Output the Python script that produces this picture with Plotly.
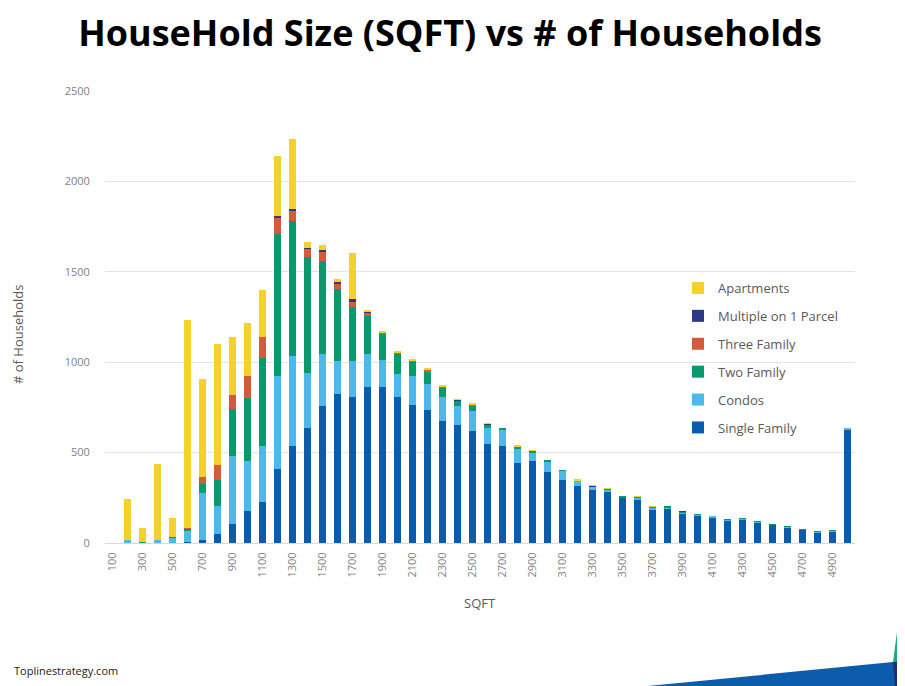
import plotly.graph_objects as go

sqft = [100, 200, 300, 400, 500, 600, 700, 800, 900, 1000,
        1100, 1200, 1300, 1400, 1500, 1600, 1700, 1800, 1900, 2000,
        2100, 2200, 2300, 2400, 2500, 2600, 2700, 2800, 2900, 3000,
        3100, 3200, 3300, 3400, 3500, 3600, 3700, 3800, 3900, 4000,
        4100, 4200, 4300, 4400, 4500, 4600, 4700, 4800, 4900, 5000]

single_family = [0, 0, 0, 0, 0, 5, 15, 48, 103, 177,
                 227, 412, 538, 637, 758, 822, 808, 865, 865, 810,
                 764, 734, 673, 655, 618, 550, 537, 445, 454, 391,
                 349, 317, 292, 280, 251, 242, 188, 192, 162, 153,
                 140, 127, 129, 114, 101, 87, 72, 59, 65, 627]
condos = [0, 18, 0, 15, 30, 60, 259, 157, 379, 277,
          309, 512, 497, 301, 288, 187, 199, 179, 146, 127,
          159, 148, 135, 103, 113, 87, 93, 74, 46, 59,
          50, 26, 18, 15, 2, 10, 10, 5, 8, 4,
          8, 3, 6, 4, 3, 4, 4, 3, 2, 8]
two_family = [0, 0, 5, 0, 3, 15, 55, 142, 259, 346,
              490, 785, 745, 643, 512, 397, 299, 212, 145, 111,
              81, 66, 50, 28, 31, 17, 5, 13, 9, 4,
              3, 3, 2, 7, 4, 5, 4, 6, 4, 2,
              0, 1, 2, 2, 1, 1, 1, 1, 1, 0]
three_family = [0, 0, 0, 0, 0, 5, 37, 87, 76, 124,
                116, 92, 61, 46, 54, 31, 30, 20, 6, 5,
                3, 9, 7, 3, 2, 2, 0, 3, 2, 0,
                0, 1, 2, 0, 0, 0, 0, 0, 0, 0,
                0, 0, 0, 0, 0, 0, 0, 0, 0, 0]
multiple_parcel = [0, 0, 0, 0, 0, 0, 0, 0, 0, 0,
                   0, 9, 9, 7, 7, 5, 11, 3, 2, 2,
                   2, 3, 2, 2, 1, 4, 0, 1, 1, 0,
                   0, 1, 4, 0, 0, 0, 0, 0, 1, 0,
                   0, 0, 0, 0, 0, 0, 0, 0, 0, 0]
apartments = [0, 228, 80, 421, 107, 1146, 540, 667, 325, 292,
              255, 333, 382, 33, 28, 18, 256, 5, 4, 7,
              5, 3, 2, 2, 4, 2, 0, 1, 1, 0,
              0, 1, 1, 1, 0, 1, 1, 0, 0, 0,
              0, 0, 0, 0, 0, 0, 0, 0, 0, 0]

series = [
    ("Single Family", single_family, "#0B5CAD", 6),
    ("Condos", condos, "#4DB8EA", 5),
    ("Two Family", two_family, "#079A6C", 4),
    ("Three Family", three_family, "#D35A3B", 3),
    ("Multiple on 1 Parcel", multiple_parcel, "#2E3986", 2),
    ("Apartments", apartments, "#F4D12B", 1),
]

x_ticks = sqft[::2]
y_ticks = [0, 500, 1000, 1500, 2000, 2500]

FONT = "Open Sans, Noto Sans, sans-serif"

fig = go.Figure()
for name, vals, color, rank in series:
    fig.add_trace(go.Bar(
        x=sqft, y=vals, name=name,
        marker=dict(color=color, line=dict(width=0)),
        legendgroup=name, legendrank=rank,
    ))

# page has an 8px body margin; figure coords = page coords - 8
OFF = 8
W, H = 905 - OFF, 686 - OFF
L, T = 105 - OFF, 91 - OFF
R = W - (855 - OFF)
B = H - (543 - OFF)
pw, ph = W - L - R, H - T - B

def px(xp):  # page x -> paper
    return (xp - OFF - L) / pw

def py(yp):  # page y -> paper
    return (H - B - (yp - OFF)) / ph

fig.update_layout(
    width=W, height=H,
    barmode="stack", bargap=0.58,
    plot_bgcolor="white", paper_bgcolor="white",
    margin=dict(l=L, r=R, t=T, b=B, autoexpand=False),
    font=dict(family=FONT, color="#7F7F7F", size=11),
    title=dict(
        text="HouseHold Size (SQFT) vs # of Households",
        x=(450 - OFF) / W, xref="container", xanchor="center",
        y=1 - (33 - OFF) / H, yref="container", yanchor="middle",
        font=dict(family=FONT, size=36, color="#000000", weight="bold"),
    ),
    legend=dict(
        x=px(678), y=py(273), xanchor="left", yanchor="top",
        traceorder="grouped", tracegroupgap=8,
        font=dict(family=FONT, size=13, color="#595959"),
        bgcolor="rgba(0,0,0,0)",
        itemwidth=30,
    ),
    showlegend=True,
)

fig.update_xaxes(
    range=[50, 5050],
    tickmode="array", tickvals=x_ticks, ticktext=[str(v) for v in x_ticks],
    tickangle=-90, ticks="outside", ticklen=4, tickcolor="rgba(0,0,0,0)",
    showgrid=False, showline=True, linecolor="#D9D9D9", linewidth=1,
    zeroline=False, tickfont=dict(family=FONT, size=11, color="#7F7F7F"),
)
fig.update_yaxes(
    range=[0, 2500],
    tickmode="array", tickvals=y_ticks,
    ticks="outside", ticklen=12, tickcolor="rgba(0,0,0,0)",
    showgrid=True, gridcolor="#E4E4E4", gridwidth=1,
    zeroline=False, showline=False,
    tickfont=dict(family=FONT, size=11, color="#7F7F7F"),
)

fig.add_annotation(
    text="SQFT", xref="paper", yref="paper", x=px(480), y=py(603),
    showarrow=False, font=dict(family=FONT, size=13, color="#595959"),
    xanchor="center", yanchor="middle",
)
fig.add_annotation(
    text="# of Households", xref="paper", yref="paper", x=px(18), y=py(335),
    showarrow=False, textangle=-90,
    font=dict(family=FONT, size=13, color="#595959"),
    xanchor="center", yanchor="middle",
)
fig.add_annotation(
    text="Toplinestrategy.com", xref="paper", yref="paper", x=px(12), y=py(670),
    showarrow=False, font=dict(family=FONT, size=11, color="#222222"),
    xanchor="left", yanchor="middle",
)

# decorative corner shapes
fig.add_shape(
    type="path", xref="paper", yref="paper",
    path=f"M {px(648)} {py(686)} L {px(893)} {py(662)} L {px(905)} {py(660)} L {px(905)} {py(686)} Z",
    fillcolor="#0B5CAD", line=dict(width=0), layer="above",
)
fig.add_shape(
    type="path", xref="paper", yref="paper",
    path=f"M {px(893)} {py(662)} L {px(905)} {py(660)} L {px(905)} {py(686)} L {px(895)} {py(686)} Z",
    fillcolor="#232C6E", line=dict(width=0), layer="above",
)
fig.add_shape(
    type="path", xref="paper", yref="paper",
    path=f"M {px(905)} {py(572)} L {px(893)} {py(662)} L {px(905)} {py(660)} Z",
    fillcolor="#1AAE7E", line=dict(width=0), layer="above",
)

fig.write_html("out.html")
